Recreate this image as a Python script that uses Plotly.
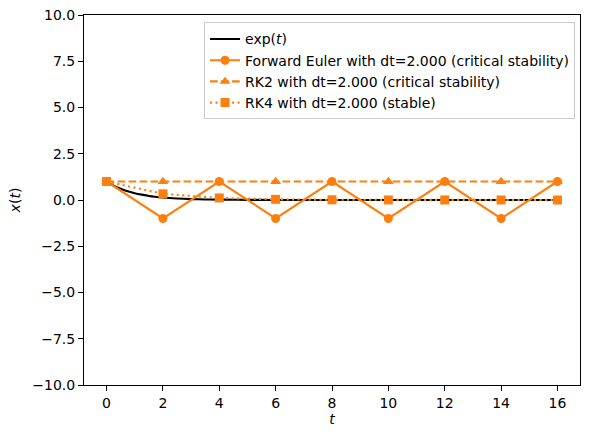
import plotly.graph_objects as go

# values
t_exact = [0, 0.25, 0.5, 0.75, 1, 1.25, 1.5, 2, 2.5, 3, 3.5, 4, 5, 6, 8, 10, 12, 14, 16]
x_exact = [1.0, 0.78, 0.61, 0.47, 0.37, 0.29, 0.22, 0.135, 0.082, 0.05, 0.03, 0.018,
           0.007, 0.0025, 0.0003, 0.0, 0.0, 0.0, 0.0]

t_steps = [0, 2, 4, 6, 8, 10, 12, 14, 16]
x_euler = [1, -1, 1, -1, 1, -1, 1, -1, 1]
x_rk2 = [1, 1, 1, 1, 1, 1, 1, 1, 1]
x_rk4 = [1, 0.333, 0.111, 0.037, 0.012, 0.004, 0.0014, 0.0005, 0.0002]

x_ticks = [0, 2, 4, 6, 8, 10, 12, 14, 16]
y_ticks = [-10, -7.5, -5, -2.5, 0, 2.5, 5, 7.5, 10]

orange = "#ff7f0e"
lw = 2.1

fig = go.Figure()
fig.add_trace(go.Scatter(x=t_exact, y=x_exact, mode="lines", name="exp(<i>t</i>)",
                         line=dict(color="black", width=lw, shape="spline")))
fig.add_trace(go.Scatter(x=t_steps, y=x_euler, mode="lines+markers",
                         name="Forward Euler with dt=2.000 (critical stability)",
                         line=dict(color=orange, width=lw),
                         marker=dict(symbol="circle", size=9, color=orange)))
fig.add_trace(go.Scatter(x=t_steps, y=x_rk2, mode="lines+markers",
                         name="RK2 with dt=2.000 (critical stability)",
                         line=dict(color=orange, width=lw, dash="7.7px,3.3px"),
                         marker=dict(symbol="triangle-up", size=9.5, color=orange)))
fig.add_trace(go.Scatter(x=t_steps, y=x_rk4, mode="lines+markers",
                         name="RK4 with dt=2.000 (stable)",
                         line=dict(color=orange, width=lw, dash="2.1px,3.4px"),
                         marker=dict(symbol="square", size=9, color=orange)))

axis_style = dict(showline=True, linecolor="black", linewidth=1, mirror=True,
                  ticks="outside", ticklen=5, tickcolor="black", showgrid=False,
                  zeroline=False, automargin=False,
                  tickfont=dict(size=14, color="black"))

fig.update_layout(
    width=589, height=438,
    margin=dict(l=84, r=9, t=15, b=53),
    paper_bgcolor="white", plot_bgcolor="white",
    font=dict(family="DejaVu Sans", size=14, color="black"),
    showlegend=True,
    legend=dict(x=0.99, y=0.98, xanchor="right", yanchor="top",
                bgcolor="rgba(255,255,255,0.8)", bordercolor="#cccccc", borderwidth=1,
                font=dict(size=14), tracegroupgap=0, itemwidth=30),
    xaxis=dict(range=[-0.8, 16.8], tickvals=x_ticks,
               title=dict(text="<i>t</i>", standoff=4, font=dict(size=14)), **axis_style),
    yaxis=dict(range=[-10, 10], tickvals=y_ticks, tickformat=".1f",
               title=dict(text="<i>x</i>(<i>t</i>)", standoff=8, font=dict(size=14)),
               **axis_style),
)

# page body has a default 8px margin, drop it so the figure sits at 0,0
fig.write_html("out.html", config={"displayModeBar": False},
               post_script="document.body.style.margin='0';")
